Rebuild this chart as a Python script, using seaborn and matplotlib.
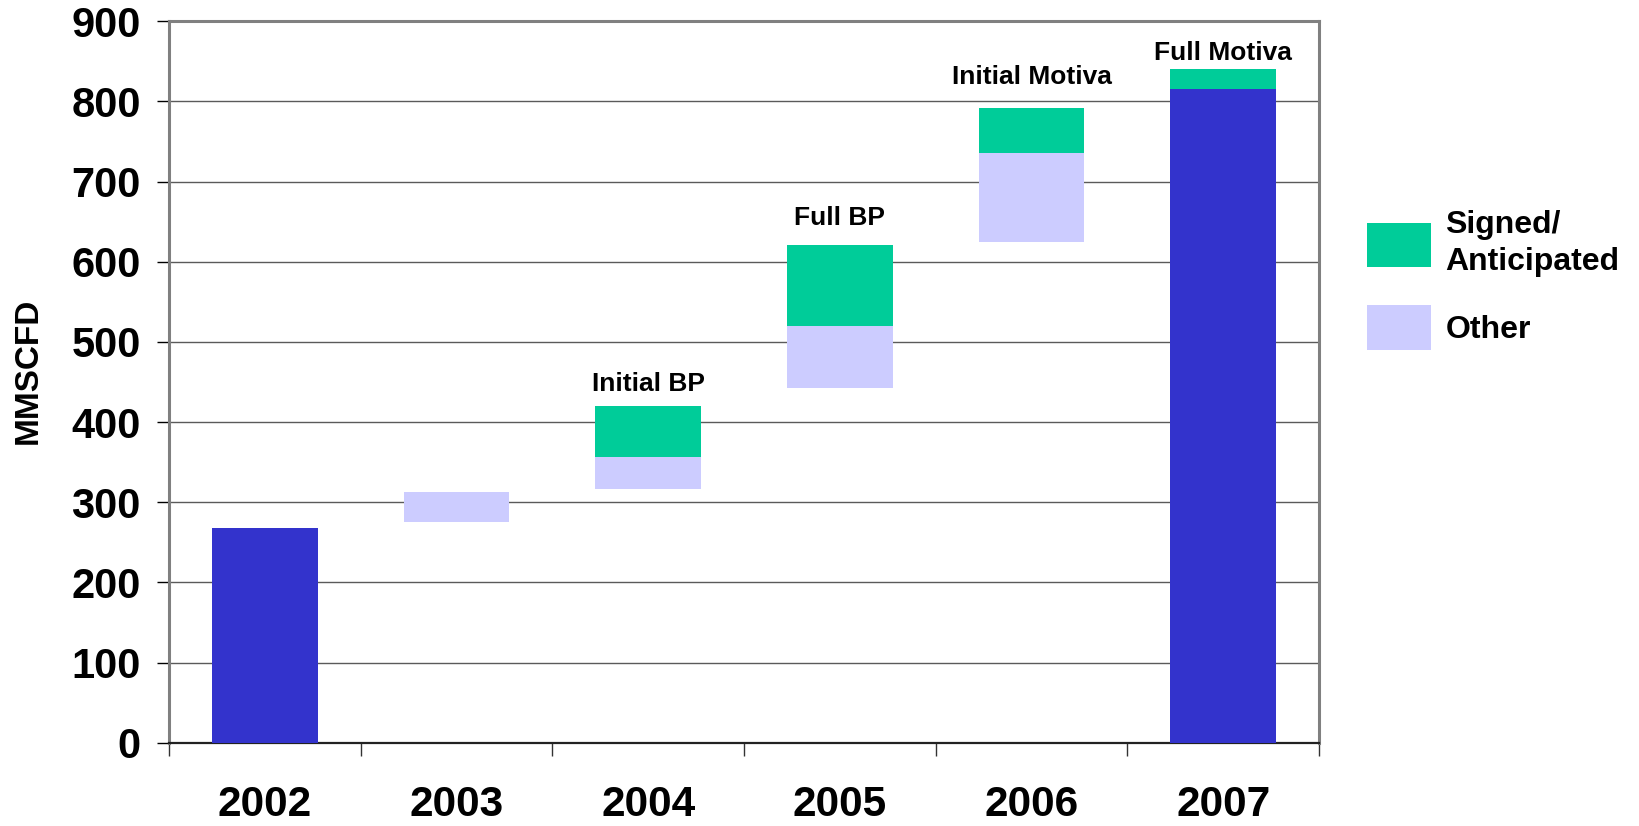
import numpy as np
import pandas as pd
import matplotlib
matplotlib.use("Agg")
import matplotlib.pyplot as plt
from matplotlib.patches import Patch
from matplotlib.ticker import FixedLocator
import seaborn as sns

# ---- data ----
years = ["2002", "2003", "2004", "2005", "2006", "2007"]
total_bar = [268, 0, 0, 0, 0, 816]             # solid totals (blue)
other_from = [0, 275, 316, 442, 625, 0]         # "Other" segment start
other_to = [0, 313, 356, 520, 736, 0]           # "Other" segment end
signed_from = [0, 0, 356, 520, 736, 816]        # "Signed/Anticipated" start
signed_to = [0, 0, 420, 621, 792, 841]          # "Signed/Anticipated" end
step_labels = ["", "", "Initial BP", "Full BP", "Initial Motiva", "Full Motiva"]
step_label_y = [0, 0, 447, 655, 830, 861]

BLUE = "#3333CC"
GREEN = "#00CC99"
LAVENDER = "#CCCCFF"

sns.set_theme(style="white")
plt.rcParams["font.family"] = ["Liberation Sans", "DejaVu Sans"]
plt.rcParams["font.weight"] = "bold"
plt.rcParams["text.color"] = "black"
plt.rcParams["xtick.color"] = "black"
plt.rcParams["ytick.color"] = "black"

fig = plt.figure(figsize=(16.4, 8.26), dpi=100)
ax = fig.add_axes([169 / 1640, 1 - 742.7 / 826, (1319 - 169) / 1640, (742.7 - 21.3) / 826])

other_h = list(np.array(other_to) - np.array(other_from))
signed_h = list(np.array(signed_to) - np.array(signed_from))

sns.barplot(x=years, y=total_bar, order=years, color=BLUE, saturation=1,
            width=0.55, linewidth=0, ax=ax, zorder=3)
sns.barplot(x=years, y=other_h, bottom=other_from, order=years, color=LAVENDER,
            saturation=1, width=0.55, linewidth=0, ax=ax, zorder=3)
sns.barplot(x=years, y=signed_h, bottom=signed_from, order=years, color=GREEN,
            saturation=1, width=0.55, linewidth=0, ax=ax, zorder=3)

for i, (lab, ly) in enumerate(zip(step_labels, step_label_y)):
    if lab:
        ax.text(i, ly, lab, ha="center", va="center", fontsize=19,
                fontweight="bold", color="black", zorder=4)

ax.set_xlim(-0.5, len(years) - 0.5)
ax.set_ylim(0, 900)
ax.set_yticks(range(0, 901, 100))
ax.set_xlabel("")
ax.set_ylabel("")

# gridlines
ax.yaxis.grid(True, color="#5a5a5a", linewidth=1.0, zorder=0)
ax.xaxis.grid(False)
ax.set_axisbelow(True)

# ticks
ax.tick_params(axis="y", which="major", direction="out", length=8.8, width=1.0,
               color="black", pad=11.5, labelsize=30, left=True)
ax.tick_params(axis="x", which="major", length=0, pad=30.5, labelsize=30.5)
ax.xaxis.set_minor_locator(FixedLocator(np.arange(-0.5, len(years), 1.0)))
ax.tick_params(axis="x", which="minor", direction="out", length=9.4, width=1.0,
               color="#333333", bottom=True)
for lab in ax.get_xticklabels() + ax.get_yticklabels():
    lab.set_fontweight("bold")
    lab.set_color("black")

# spines
for side in ["top", "right", "left"]:
    ax.spines[side].set_visible(True)
    ax.spines[side].set_color("#808080")
    ax.spines[side].set_linewidth(2.2)
ax.spines["bottom"].set_color("#222222")
ax.spines["bottom"].set_linewidth(1.6)

# y label
fig.text(28 / 1640, 1 - 371 / 826, "MMSCFD", rotation=90, ha="center", va="center",
         fontsize=24, fontweight="bold", color="black")

# legend
handles = [Patch(facecolor=GREEN, edgecolor="none"),
           Patch(facecolor=LAVENDER, edgecolor="none")]
leg = fig.legend(handles, ["Signed/\nAnticipated", "Other"], loc="upper left",
                 bbox_to_anchor=(1367 / 1640, 1 - 210.5 / 826), frameon=False,
                 handlelength=2.0, handleheight=1.75, handletextpad=0.45,
                 labelspacing=0.9, borderpad=0, borderaxespad=0,
                 prop={"weight": "bold", "size": 23})
for t in leg.get_texts():
    t.set_color("black")
    t.set_linespacing(1.27)

fig.savefig("out.png", dpi=100, facecolor="white")
